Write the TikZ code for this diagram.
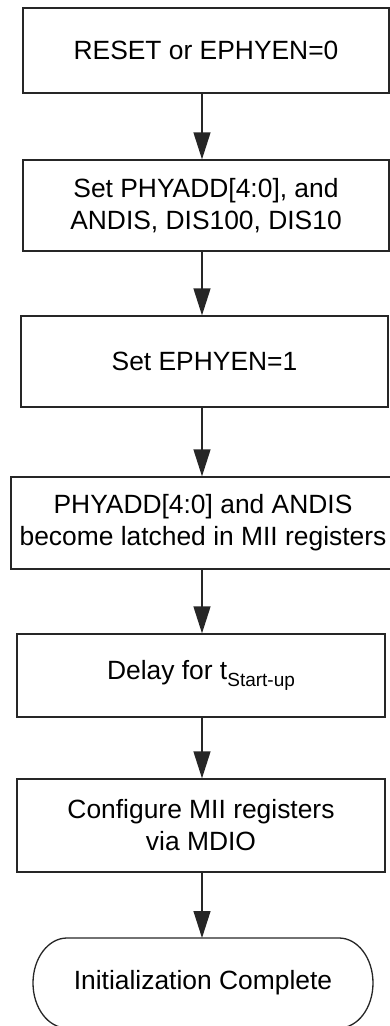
\documentclass[tikz,border=0pt]{standalone}
\usepackage{fontspec}
\setmainfont{Liberation Sans}
\usetikzlibrary{arrows.meta,calc}
\begin{document}
\begin{tikzpicture}[x=1pt,y=1pt,
  box/.style={draw=black!85, line width=1.3pt, inner sep=0pt, align=center,
    font=\fontsize{26.4}{32}\selectfont},
  txt/.style={inner sep=0pt, font=\fontsize{26.4}{32}\selectfont},
  outline/.style={draw=black!85, line width=1.3pt},
  arr/.style={draw=black!85, line width=1.3pt, -{Triangle[length=27pt,width=17pt]}}
]
\useasboundingbox (0,0) rectangle (390,-1026);
\node[box, minimum width=366pt, minimum height=85pt] (b1) at (206,-50.5) {RESET or EPHYEN=0};
\node[box, minimum width=366pt, minimum height=91pt] (b2) at (206,-205.5) {Set PHYADD[4:0], and\\ANDIS, DIS100, DIS10};
\node[box, minimum width=367pt, minimum height=91pt] (b3) at (204.5,-361.5) {Set EPHYEN=1};
\node[box, minimum width=384pt, minimum height=92pt] (b4) at (203,-523) {PHYADD[4:0] and ANDIS\\become latched in MII registers};
\node[box, minimum width=368pt, minimum height=83pt] (b5) at (201,-675.5) {Delay for t{\fontsize{19}{19}\selectfont\raisebox{-7pt}{Start-up}}};
\node[box, minimum width=368pt, minimum height=93pt] (b6) at (201,-825.5) {Configure MII registers\\via MDIO};
\node[txt] (t) at (203,-983) {Initialization Complete};
\draw[outline] ($(t.center)+(-136,45)$) -- ($(t.center)+(136,45)$)
  arc[start angle=90,end angle=-90,x radius=34pt,y radius=45pt]
  -- ($(t.center)+(-136,-45)$)
  arc[start angle=270,end angle=90,x radius=34pt,y radius=45pt] -- cycle;
\coordinate (ax) at (202,0);
\coordinate (ttop) at (202,-938);
\draw[arr] (b1.south -| ax) -- (b2.north -| ax);
\draw[arr] (b2.south -| ax) -- (b3.north -| ax);
\draw[arr] (b3.south -| ax) -- (b4.north -| ax);
\draw[arr] (b4.south -| ax) -- (b5.north -| ax);
\draw[arr] (b5.south -| ax) -- (b6.north -| ax);
\draw[arr] (b6.south -| ax) -- (ttop);
\end{tikzpicture}
\end{document}
